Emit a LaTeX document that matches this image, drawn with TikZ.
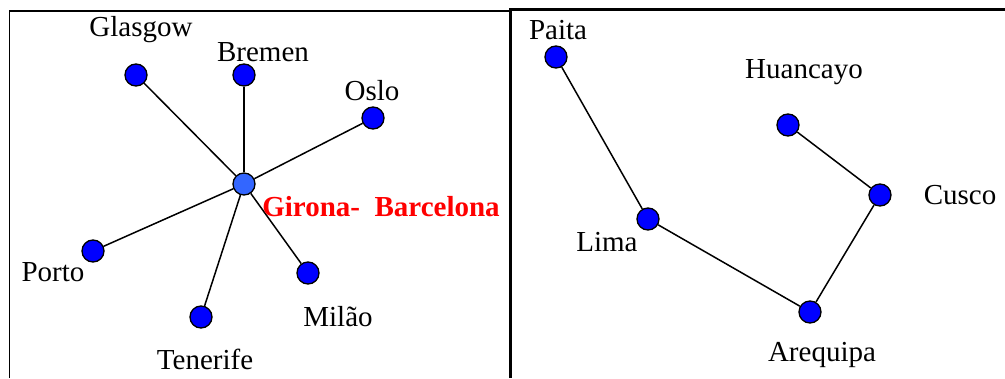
\documentclass[tikz,border=0pt]{standalone}
\usepackage{fontspec}
\setmainfont{Liberation Serif}
\definecolor{cityblue}{RGB}{0,0,255}
\definecolor{hubblue}{RGB}{51,102,255}
\tikzset{
	city/.style={circle, draw=black, line width=1.3pt, fill=cityblue, minimum size=22pt, inner sep=0pt},
	hub/.style={city, fill=hubblue},
	cityname/.style={font=\fontsize{29}{34}\selectfont, inner sep=0pt},
	route/.style={line width=1.5pt}
}
\begin{document}
\begin{tikzpicture}[x=1pt, y=-1pt]
	\useasboundingbox (0,0) rectangle (1005,378);

	% frames
	\draw[line width=1.5pt] (9.5,378) |- (510,11);
	\draw[line width=3pt] (510,378) |- (1005,9.5);

	% star network
	\node[hub] (girona) at (244,184) {};
	\node[city] (glasgow) at (136,75) {};
	\node[city] (bremen) at (244,75) {};
	\node[city] (oslo) at (373,118) {};
	\node[city] (porto) at (93,251) {};
	\node[city] (tenerife) at (201,317) {};
	\node[city] (milao) at (308,273) {};

	\foreach \c in {glasgow, bremen, oslo, porto, tenerife, milao}
		\draw[route] (girona) -- (\c);

	\node[cityname] (lglasgow) at (141,30) {Glasgow};
	\node[cityname] (lbremen) at (263,52) {Bremen};
	\node[cityname] (loslo) at (372,91) {Oslo};
	\node[cityname] (lporto) at (53,272) {Porto};
	\node[cityname] (ltenerife) at (205,359) {Tenerife};
	\node[cityname] (lmilao) at (338,317) {Milão};
	\node[cityname, text=red, font=\fontsize{29}{34}\selectfont\bfseries] (lgirona) at (381,207) {Girona-\ \ Barcelona};

	% chain network
	\node[city] (paita) at (556,57) {};
	\node[city] (lima) at (648,219) {};
	\node[city] (arequipa) at (810,312) {};
	\node[city] (cusco) at (880,195) {};
	\node[city] (huancayo) at (788,125) {};

	\draw[route] (paita) -- (lima) -- (arequipa) -- (cusco) -- (huancayo);

	\node[cityname] (lpaita) at (558,30) {Paita};
	\node[cityname] (llima) at (607,242) {Lima};
	\node[cityname] (larequipa) at (822,355) {Arequipa};
	\node[cityname] (lcusco) at (960,195) {Cusco};
	\node[cityname] (lhuancayo) at (804,72) {Huancayo};
\end{tikzpicture}
\end{document}
